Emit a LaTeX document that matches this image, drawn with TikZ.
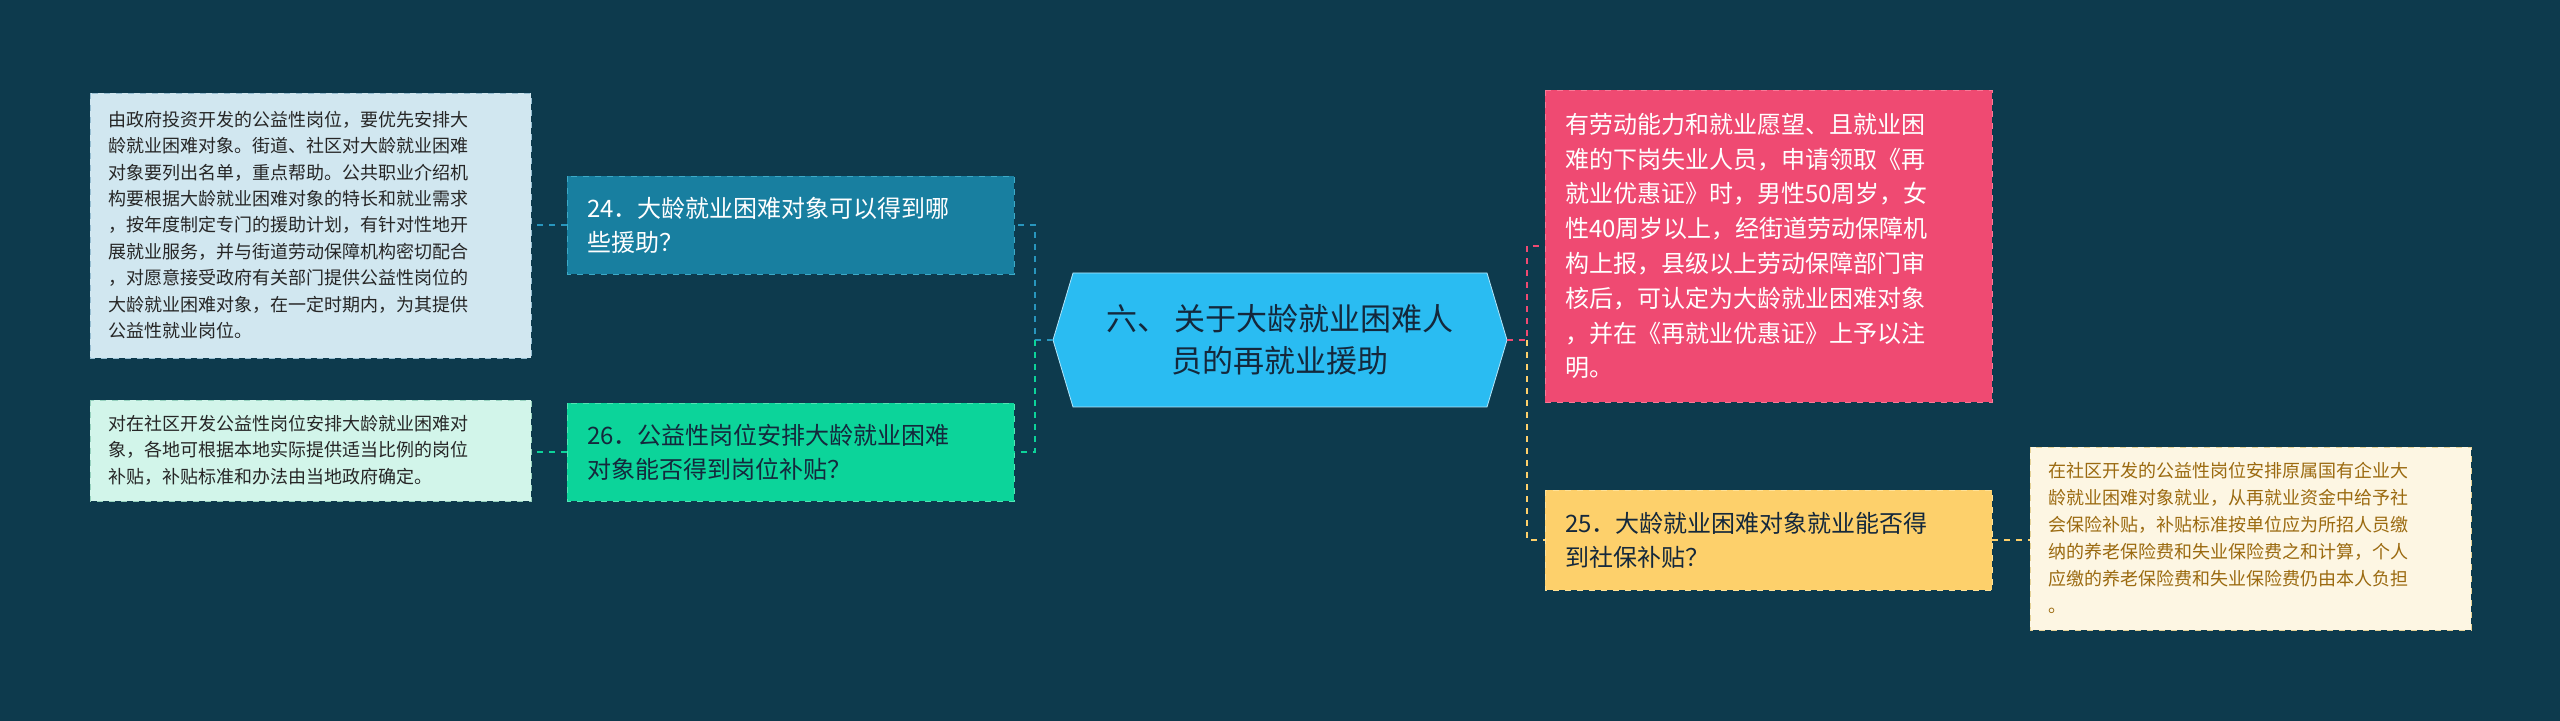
\documentclass[tikz,border=0pt]{standalone}
\usepackage{fontspec}
\setmainfont{Noto Sans CJK SC}
\definecolor{bg}{HTML}{0D3A4D}
\definecolor{cblue}{RGB}{40,150,190}
\definecolor{cgreen}{RGB}{12,212,154}
\definecolor{cred}{RGB}{239,74,114}
\definecolor{cyel}{RGB}{253,208,107}
\definecolor{dtext}{RGB}{20,40,60}
\begin{document}
\begin{tikzpicture}[x=0.5pt,y=-0.5pt,
  conn/.style={dashed,line width=1.2pt}]
\fill[bg] (0,0) rectangle (2560,721);
\useasboundingbox (0,0) rectangle (2560,721);
% center
\filldraw[draw=white!70!cyan,fill={rgb,255:red,42;green,188;blue,242}] (1053,340)--(1073,273)--(1487,273)--(1507,340)--(1487,407)--(1073,407)--cycle;
\node[align=center,font=\fontsize{15.5pt}{21pt}\selectfont,text=dtext] (c) at (1280,340) {六、 关于大龄就业困难人\\员的再就业援助};
\coordinate (cl) at (1053,340); \coordinate (cr) at (1507,340);
% left top
\filldraw[draw={rgb,255:red,150;green,190;blue,210},fill={rgb,255:red,209;green,231;blue,240},dashed] (90,93) rectangle (531,358);
\node[anchor=west,align=left,font=\fontsize{9pt}{13.2pt}\selectfont,text=black!85] (lt) at (101,225) {由政府投资开发的公益性岗位，要优先安排大\\龄就业困难对象。街道、社区对大龄就业困难\\对象要列出名单，重点帮助。公共职业介绍机\\构要根据大龄就业困难对象的特长和就业需求\\，按年度制定专门的援助计划，有针对性地开\\展就业服务，并与街道劳动保障机构密切配合\\，对愿意接受政府有关部门提供公益性岗位的\\大龄就业困难对象，在一定时期内，为其提供\\公益性就业岗位。};
\coordinate (ltr) at (531,225);
% 24
\filldraw[draw={rgb,255:red,60;green,170;blue,200},fill={rgb,255:red,24;green,127;blue,160},dashed] (567,176) rectangle (1014,274);
\node[anchor=west,align=left,font=\fontsize{12pt}{17pt}\selectfont,text=white] (q24) at (580,225) {24．大龄就业困难对象可以得到哪\\些援助？};
% left bottom
\filldraw[draw={rgb,255:red,150;green,210;blue,190},fill={rgb,255:red,210;green,245;blue,234},dashed] (90,400) rectangle (531,501);
\node[anchor=west,align=left,font=\fontsize{9pt}{13.2pt}\selectfont,text=black!85] (lb) at (101,450) {对在社区开发公益性岗位安排大龄就业困难对\\象，各地可根据本地实际提供适当比例的岗位\\补贴，补贴标准和办法由当地政府确定。};
% 26
\filldraw[draw={rgb,255:red,80;green,230;blue,180},fill=cgreen,dashed] (567,403) rectangle (1014,501);
\node[anchor=west,align=left,font=\fontsize{12pt}{17pt}\selectfont,text=dtext] (q26) at (580,452) {26．公益性岗位安排大龄就业困难\\对象能否得到岗位补贴？};
% red
\filldraw[draw={rgb,255:red,250;green,120;blue,150},fill=cred,dashed] (1545,90) rectangle (1992,402);
\node[anchor=west,align=left,font=\fontsize{12pt}{17.4pt}\selectfont,text=white] (r) at (1558,246) {有劳动能力和就业愿望、且就业困\\难的下岗失业人员，申请领取《再\\就业优惠证》时，男性50周岁，女\\性40周岁以上，经街道劳动保障机\\构上报，县级以上劳动保障部门审\\核后，可认定为大龄就业困难对象\\，并在《再就业优惠证》上予以注\\明。};
% yellow
\filldraw[draw={rgb,255:red,255;green,225;blue,150},fill=cyel,dashed] (1545,490) rectangle (1992,590);
\node[anchor=west,align=left,font=\fontsize{12pt}{17pt}\selectfont,text=dtext] (q25) at (1558,540) {25．大龄就业困难对象就业能否得\\到社保补贴？};
% right text
\filldraw[draw={rgb,255:red,230;green,210;blue,150},fill={rgb,255:red,253;green,246;blue,227},dashed] (2030,447) rectangle (2471,630);
\node[anchor=west,align=left,font=\fontsize{9pt}{13.5pt}\selectfont,text={rgb,255:red,155;green,106;blue,16}] (rt) at (2041,538) {在社区开发的公益性岗位安排原属国有企业大\\龄就业困难对象就业，从再就业资金中给予社\\会保险补贴，补贴标准按单位应为所招人员缴\\纳的养老保险费和失业保险费之和计算，个人\\应缴的养老保险费和失业保险费仍由本人负担\\。};
% connectors
\coordinate (jl) at (1035,340); \coordinate (jr) at (1527,340);
\draw[conn,cblue] (cl)--(jl)--(1035,225)--(1014,225);
\draw[conn,cgreen] (jl)--(1035,452)--(1014,452);
\draw[conn,cblue] (567,225)--(ltr);
\draw[conn,cgreen] (567,452)--(531,452);
\draw[conn,cred] (cr)--(jr)--(1527,246)--(1545,246);
\draw[conn,cyel] (jr)--(1527,540)--(1545,540);
\draw[conn,cyel] (1992,540)--(2030,540);
\end{tikzpicture}
\end{document}
